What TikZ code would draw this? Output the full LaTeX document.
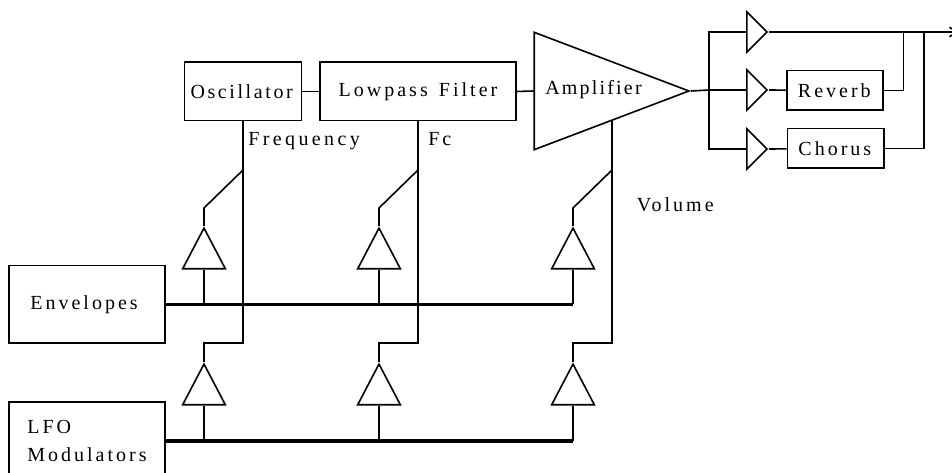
\documentclass[tikz,border=0pt]{standalone}
\usepackage{fontspec}
\setmainfont[LetterSpace=15,WordSpace=1.4]{Liberation Serif}
\usetikzlibrary{shapes.geometric,arrows.meta}
\tikzstyle{moduleBox}=[shape = rectangle, draw, line width = 1pt, inner sep = 0pt, font = \fontsize{15}{21}\selectfont]
\tikzstyle{gainStyle}=[shape = isosceles triangle, isosceles triangle stretches, draw, line width = 1.2pt, inner sep = 0pt, minimum width = 30pt, minimum height = 15pt]
\tikzstyle{modGain}=[gainStyle, shape border rotate = 90, minimum width = 32pt, minimum height = 30.5pt, anchor = apex]
\tikzstyle{labelStyle}=[inner sep = 0pt, font = \fontsize{15}{21}\selectfont]
\tikzstyle{wire}=[line width = 1.2pt]
\tikzstyle{bus}=[line width = 2.4pt]

\begin{document}
\begin{tikzpicture}[x = 0.75pt, y = -0.75pt]
\useasboundingbox (0,0) rectangle (952,473);
\node[moduleBox, minimum width = 87.75pt, minimum height = 44pt] (osc) at (243,91.5) {\addfontfeature{LetterSpace=13}Oscillator\hspace*{2pt}};
\node[moduleBox, minimum width = 147pt, minimum height = 44pt] (filter) at (418,91.5) {Lowpass Filter};
\node[gainStyle, minimum width = 88pt, minimum height = 116pt, anchor = apex] (amp) at (691,91) {};
\node[labelStyle] (ampText) at (593.5,90) {\addfontfeature{LetterSpace=11}Amplifier};
\node[moduleBox, minimum width = 117pt, minimum height = 58pt] (env) at (87,304.5) {Envelopes\hspace*{4.5pt}};
\node[moduleBox, minimum width = 117pt, minimum height = 58.5pt, align = left] (lfo) at (87,441) {LFO\\Modulators};
\node[moduleBox, minimum width = 72pt, minimum height = 29.5pt] (reverb) at (835,90.5) {Reverb\hspace*{1pt}};
\node[moduleBox, minimum width = 72.5pt, minimum height = 29.5pt] (chorus) at (835.5,148.5) {Chorus\hspace*{1pt}};
% output gains
\node[gainStyle, anchor = apex] (dry) at (769,32) {};
\node[gainStyle, anchor = apex] (wet) at (769,90) {};
\node[gainStyle, anchor = apex] (cho) at (769,149) {};
% modulation gains
\node[modGain] (envOsc) at (204,226) {};
\node[modGain] (envFlt) at (379,226) {};
\node[modGain] (envAmp) at (573,226) {};
\node[modGain] (lfoOsc) at (204,362) {};
\node[modGain] (lfoFlt) at (379,362) {};
\node[modGain] (lfoAmp) at (573,362) {};
\node[labelStyle, anchor = base west] (freq) at (248,146) {\addfontfeature{LetterSpace=17}Frequency};
\node[labelStyle, anchor = base west] (fc) at (428,146) {Fc};
\node[labelStyle, anchor = base west] (vol) at (636.5,212) {Volume};
\coordinate (ampTap) at (612,120.5);
\coordinate (split) at (709,90);
\coordinate (outEnd) at (959,32);
%
\draw[wire] (osc) -- (filter);
\draw[wire] (filter.east) -- (amp.lower side);
\draw[wire] (amp.apex) -- (split);
\draw[wire] (split) |- (dry.lower side);
\draw[wire] (split) -- (wet.lower side);
\draw[wire] (split) |- (cho.lower side);
\draw[wire, -{Straight Barb[length = 6pt, width = 7pt]}] (dry.apex) -- (outEnd);
\draw[wire] (wet.apex) -- (reverb);
\draw[wire] (cho.apex) -- (chorus);
\draw[wire] (reverb.east) -- ++(20,0) -- ++(0,-58.5);
\draw[wire] (chorus.east) -- ++(39.5,0) -- ++(0,-116.5);
\draw[bus] (env.east) -- (env.east -| envAmp.lower side);
\draw[bus] (lfo.east) -- (lfo.east -| lfoAmp.lower side);
\draw[wire] (envOsc.lower side) -- (envOsc.lower side |- env.east);
\draw[wire] (envFlt.lower side) -- (envFlt.lower side |- env.east);
\draw[wire] (envAmp.lower side) -- (envAmp.lower side |- env.east);
\draw[wire] (lfoOsc.lower side) -- (lfoOsc.lower side |- lfo.east);
\draw[wire] (lfoFlt.lower side) -- (lfoFlt.lower side |- lfo.east);
\draw[wire] (lfoAmp.lower side) -- (lfoAmp.lower side |- lfo.east);
\draw[wire] (lfoOsc.apex) -- ++(0,-19) -| (osc.south);
\draw[wire] (lfoFlt.apex) -- ++(0,-19) -| (filter.south);
\draw[wire] (lfoAmp.apex) -- ++(0,-19) -| (ampTap);
\draw[wire] (envOsc.apex) -- ++(0,-18) -- ++(39,-38);
\draw[wire] (envFlt.apex) -- ++(0,-18) -- ++(39,-38);
\draw[wire] (envAmp.apex) -- ++(0,-18) -- ++(39,-38);
%
\end{tikzpicture}
\end{document}
